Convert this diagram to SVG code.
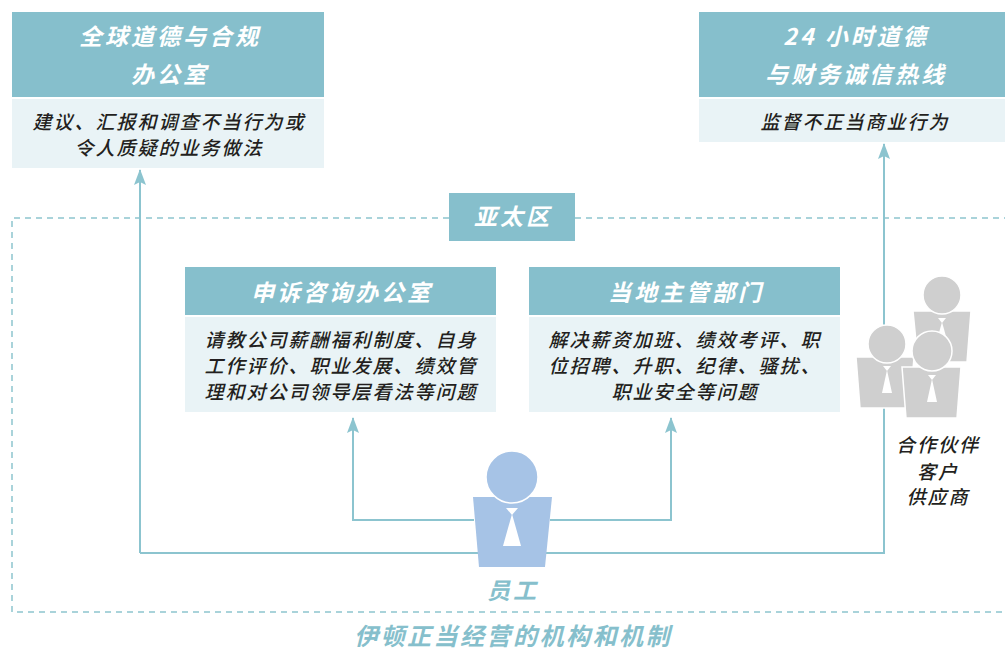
<svg xmlns="http://www.w3.org/2000/svg" width="1005" height="650" viewBox="0 0 1005 650">
<defs>
<style>
.hd{fill:#86bfcc}
.bd{fill:#e9f3f6}
.ht{font-family:"Noto Sans CJK SC",sans-serif;font-weight:bold;font-style:italic;font-size:23px;letter-spacing:3px;fill:#fff;text-anchor:middle}
.bt{font-family:"Noto Sans CJK SC",sans-serif;font-weight:500;font-style:italic;font-size:19px;letter-spacing:2px;fill:#231f20;text-anchor:middle}
.ln{fill:none;stroke:#8cc4cf;stroke-width:2}
.ds{fill:none;stroke:#a9d3da;stroke-width:2;stroke-dasharray:6 5}
.gp{fill:#cfcfcf;stroke:#fff;stroke-width:1.5}
.tie{fill:#fff}
</style>
<marker id="ah" markerWidth="16" markerHeight="14" viewBox="0 0 16 14" refX="15" refY="7" orient="auto" markerUnits="userSpaceOnUse">
<path d="M16 7 L0 1 L3 7 L0 13 Z" fill="#8cc4cf"/>
</marker>
</defs>
<rect width="1005" height="650" fill="#fff"/>

<g id="region">
<path class="ds" d="M1010 218 H12 V612 H1010"/>
</g>

<g id="connectors">
<path class="ln" d="M140 553 H884 V144" marker-end="url(#ah)"/>
<path class="ln" d="M140 553 V170" marker-end="url(#ah)"/>
<path class="ln" d="M474 520 H353 V418" marker-end="url(#ah)"/>
<path class="ln" d="M550 520 H671 V418" marker-end="url(#ah)"/>
</g>

<g id="global-office">
<rect class="hd" x="12" y="12" width="312" height="85"/>
<rect class="bd" x="12" y="99" width="312" height="69"/>
<text class="ht" x="170" y="45">全球道德与合规</text>
<text class="ht" x="170" y="83">办公室</text>
<text class="bt" x="169" y="129">建议、汇报和调查不当行为或</text>
<text class="bt" x="169" y="155">令人质疑的业务做法</text>
</g>

<g id="hotline">
<rect class="hd" x="699" y="12" width="312" height="85"/>
<rect class="bd" x="699" y="99" width="312" height="43"/>
<text class="ht" x="856" y="45">24 小时道德</text>
<text class="ht" x="856" y="83">与财务诚信热线</text>
<text class="bt" x="855" y="129">监督不正当商业行为</text>
</g>

<g id="apac">
<rect class="hd" x="449" y="193" width="126" height="48"/>
<text class="ht" x="513" y="225">亚太区</text>
</g>

<g id="grievance-office">
<rect class="hd" x="185" y="267" width="311" height="48"/>
<rect class="bd" x="185" y="317" width="311" height="95"/>
<text class="ht" x="342" y="301">申诉咨询办公室</text>
<text class="bt" x="341" y="347">请教公司薪酬福利制度、自身</text>
<text class="bt" x="341" y="373">工作评价、职业发展、绩效管</text>
<text class="bt" x="341" y="399">理和对公司领导层看法等问题</text>
</g>

<g id="local-management">
<rect class="hd" x="529" y="267" width="311" height="48"/>
<rect class="bd" x="529" y="317" width="311" height="95"/>
<text class="ht" x="686" y="301">当地主管部门</text>
<text class="bt" x="685" y="347">解决薪资加班、绩效考评、职</text>
<text class="bt" x="685" y="373">位招聘、升职、纪律、骚扰、</text>
<text class="bt" x="685" y="399">职业安全等问题</text>
</g>

<g id="employee">
<path d="M473 497 H552 L545 567 H479 Z" fill="#a6c3e6"/>
<circle cx="512" cy="477" r="26" fill="#a6c3e6" stroke="#fff" stroke-width="1.5"/>
<path class="tie" d="M506 508 H518 L512 515 Z"/>
<path class="tie" d="M512 514 L521 546 H503 Z"/>
<text x="513" y="599" font-family="Noto Sans CJK SC,sans-serif" font-weight="bold" font-style="italic" font-size="23" letter-spacing="3" fill="#86bfcc" text-anchor="middle">员工</text>
</g>

<g id="partners">
<path class="gp" d="M913 311 H971 L967 362 H918 Z"/>
<circle class="gp" cx="942" cy="295" r="19"/>
<path class="tie" d="M938 318 H946 L942 323 Z"/>
<path class="tie" d="M942 322 L947 340 H937 Z"/>
<path class="gp" d="M856 357 H914 L910 408 H860 Z"/>
<circle class="gp" cx="887" cy="344" r="19"/>
<path class="tie" d="M883 366 H891 L887 371 Z"/>
<path class="tie" d="M887 370 L892 393 H882 Z"/>
<path class="gp" d="M902 367 H961 L957 418 H906 Z"/>
<circle class="gp" cx="932" cy="351" r="20"/>
<path class="tie" d="M928 375 H936 L932 380 Z"/>
<path class="tie" d="M932 379 L937 402 H927 Z"/>
<text class="bt" x="938" y="452">合作伙伴</text>
<text class="bt" x="938" y="479">客户</text>
<text class="bt" x="938" y="504">供应商</text>
</g>

<g id="caption">
<text x="513" y="645" font-family="Noto Sans CJK SC,sans-serif" font-weight="bold" font-style="italic" font-size="24" letter-spacing="2.5" fill="#86bfcc" text-anchor="middle">伊顿正当经营的机构和机制</text>
</g>
</svg>
